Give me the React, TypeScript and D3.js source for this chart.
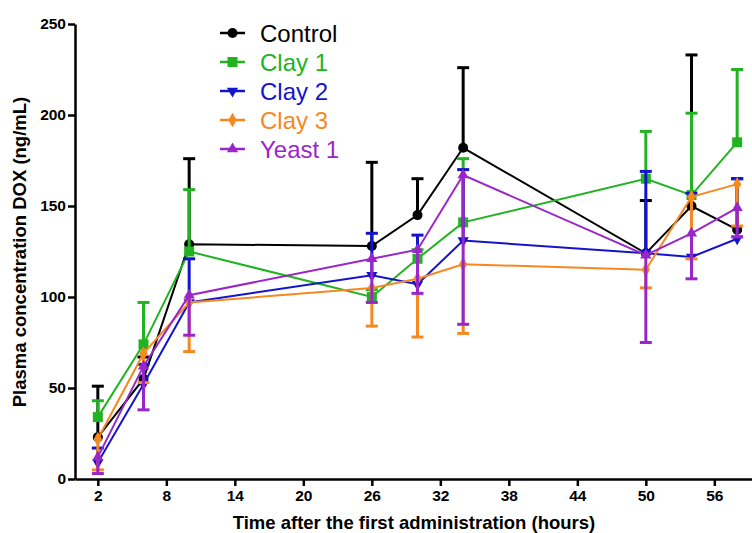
import * as d3 from 'd3'
import { useEffect, useRef } from 'react'

const hours = [2, 6, 10, 26, 30, 34, 50, 54, 58]
const xTicks = [2, 8, 14, 20, 26, 32, 38, 44, 50, 56]
const yTicks = [0, 50, 100, 150, 200, 250]

const seriesNames = ['Control', 'Clay 1', 'Clay 2', 'Clay 3', 'Yeast 1']
const seriesColors = ['#000000', '#22b322', '#1414cc', '#f5891f', '#9a26c9']
const seriesMarkers = ['circle', 'square', 'triDown', 'diamond', 'triUp']
// +1 = error bar drawn upward, -1 = downward
const errDirection = [1, 1, 1, -1, -1]

const controlMean = [23, 55, 129, 128, 145, 182, 124, 150, 137]
const controlSd = [28, 12, 47, 46, 20, 44, 29, 83, 28]
const clay1Mean = [34, 74, 125, 100, 121, 141, 165, 156, 185]
const clay1Sd = [9, 23, 34, 4, 5, 35, 26, 45, 40]
const clay2Mean = [9, 52, 97, 112, 107, 131, 124, 122, 132]
const clay2Sd = [8, 11, 24, 23, 27, 39, 45, 35, 33]
const clay3Mean = [22, 69, 97, 105, 110, 118, 115, 155, 162]
const clay3Sd = [17, 16, 27, 21, 32, 38, 10, 34, 23]
const yeast1Mean = [12, 62, 101, 121, 126, 167, 123, 135, 149]
const yeast1Sd = [9, 24, 22, 24, 24, 82, 48, 25, 16]

const means = [controlMean, clay1Mean, clay2Mean, clay3Mean, yeast1Mean]
const sds = [controlSd, clay1Sd, clay2Sd, clay3Sd, yeast1Sd]

const W = 752
const H = 533

function drawMarker (g, kind, x, y, color) {
  if (kind === 'circle') {
    g.append('circle').attr('cx', x).attr('cy', y).attr('r', 5).attr('fill', color)
  } else if (kind === 'square') {
    g.append('rect').attr('x', x - 5).attr('y', y - 5).attr('width', 10).attr('height', 10).attr('fill', color)
  } else {
    const sym = kind === 'diamond' ? d3.symbolDiamond : d3.symbolTriangle
    const size = kind === 'diamond' ? 60 : 55
    const rot = kind === 'triDown' ? 180 : 0
    g.append('path')
      .attr('d', d3.symbol().type(sym).size(size)())
      .attr('transform', `translate(${x},${y}) rotate(${rot})`)
      .attr('fill', color)
  }
}

export default function App () {
  const ref = useRef(null)

  useEffect(() => {
    const svg = d3.select(ref.current)
    svg.selectAll('*').remove()

    const x = d3.scaleLinear().domain([0, 59.3]).range([75, 752])
    const y = d3.scaleLinear().domain([0, 250]).range([479, 24])

    const font = 'Liberation Sans, Arial, sans-serif'

    // series, error bars first then lines & markers
    seriesNames.forEach((name, si) => {
      const color = seriesColors[si]
      const g = svg.append('g')
      const mean = means[si]
      const sd = sds[si]
      hours.forEach((h, i) => {
        const end = mean[i] + errDirection[si] * sd[i]
        g.append('line')
          .attr('x1', x(h)).attr('x2', x(h))
          .attr('y1', y(mean[i])).attr('y2', y(end))
          .attr('stroke', color).attr('stroke-width', 3)
        g.append('line')
          .attr('x1', x(h) - 6).attr('x2', x(h) + 6)
          .attr('y1', y(end)).attr('y2', y(end))
          .attr('stroke', color).attr('stroke-width', 3)
      })
      const line = d3.line().x((d, i) => x(hours[i])).y(d => y(d))
      g.append('path')
        .attr('d', line(mean))
        .attr('fill', 'none')
        .attr('stroke', color)
        .attr('stroke-width', 2)
      hours.forEach((h, i) => drawMarker(g, seriesMarkers[si], x(h), y(mean[i]), color))
    })

    // axes
    const xAxis = svg.append('g')
      .attr('transform', `translate(0,${y(0)})`)
      .call(d3.axisBottom(x).tickValues(xTicks).tickSize(7).tickPadding(4).tickSizeOuter(0))
    const yAxis = svg.append('g')
      .attr('transform', `translate(${x(0)},0)`)
      .call(d3.axisLeft(y).tickValues(yTicks).tickSize(7).tickPadding(2).tickSizeOuter(0))
    for (const ax of [xAxis, yAxis]) {
      ax.select('.domain').attr('stroke', '#000').attr('stroke-width', 2.5)
      ax.selectAll('.tick line').attr('stroke', '#000').attr('stroke-width', 2.5)
      ax.selectAll('.tick text')
        .attr('fill', '#000')
        .style('font-family', font)
        .style('font-size', '15.5px')
        .style('font-weight', 'bold')
    }

    svg.append('text')
      .attr('x', 414).attr('y', 529)
      .attr('text-anchor', 'middle')
      .style('font-family', font)
      .style('font-size', '18.5px')
      .style('font-weight', 'bold')
      .text('Time after the first administration (hours)')

    svg.append('text')
      .attr('transform', 'translate(26,252) rotate(-90)')
      .attr('text-anchor', 'middle')
      .style('font-family', font)
      .style('font-size', '18.5px')
      .style('font-weight', 'bold')
      .text('Plasma concentration DOX (ng/mL)')

    // legend
    const lg = svg.append('g')
    seriesNames.forEach((name, si) => {
      const ly = 33 + si * 29
      const color = seriesColors[si]
      lg.append('line')
        .attr('x1', 220).attr('x2', 245)
        .attr('y1', ly).attr('y2', ly)
        .attr('stroke', color).attr('stroke-width', 2.5)
      drawMarker(lg, seriesMarkers[si], 232.5, ly, color)
      lg.append('text')
        .attr('x', 260).attr('y', ly + 8.5)
        .attr('fill', color)
        .style('font-family', font)
        .style('font-size', '24px')
        .text(name)
    })
  }, [])

  return (
    <svg ref={ref} width={W} height={H}
      style={{ position: 'absolute', left: 0, top: 0, background: '#fff' }} />
  )
}
